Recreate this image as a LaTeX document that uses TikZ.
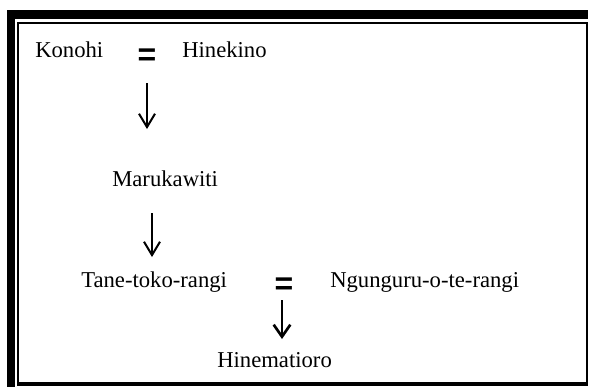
\documentclass[tikz,border=0pt]{standalone}
\usepackage{fontspec}
\setmainfont{Liberation Serif}
\newfontfamily\eqfont{Liberation Sans}
\usetikzlibrary{arrows.meta}
\tikzset{
  person/.style={anchor=base west, inner sep=0pt, font=\fontsize{17}{20}\selectfont},
  marriage/.style={inner sep=0pt, font=\eqfont\bfseries\fontsize{24}{24}\selectfont},
  descent/.style={line width=1.5pt, -{Straight Barb[length=10pt, width=12pt, line width=1.5pt]}},
  descentb/.style={line width=2pt, -{Straight Barb[length=9pt, width=12.5pt, line width=2pt]}}
}
\begin{document}
\begin{tikzpicture}[x=0.75pt, y=-0.75pt]
\useasboundingbox (0,0) rectangle (589,387);
% frame
\fill[black] (7,10) rectangle (588,18.5);
\fill[black] (7,10) rectangle (15,387);
\draw[line width=1.5pt] (18,22.5) -- (587,22.5) -- (587,384) -- (18,384) -- cycle;
\fill[black] (17,382) rectangle (588,386);
% people
\node[person] (konohi) at (35,57) {Konohi};
\node[person] (hinekino) at (182,57) {Hinekino};
\node[person] (maru) at (112,186) {Marukawiti};
\node[person] (tane) at (81,287) {Tane-toko-rangi};
\node[person] (ngu) at (330,287) {Ngunguru-o-te-rangi};
\node[person] (hinem) at (217,367) {Hinematioro};
% marriages
\node[marriage] (eq1) at (147,57) {=};
\node[marriage] (eq2) at (284,286) {=};
% descent arrows
\coordinate (a1s) at (147,83);
\coordinate (a1e) at (147,129);
\coordinate (a2s) at (152,213);
\coordinate (a2e) at (152,257);
\coordinate (a3s) at (282,300);
\coordinate (a3e) at (282,339);
\draw[descent] (a1s) -- (a1e);
\draw[descent] (a2s) -- (a2e);
\draw[descentb] (a3s) -- (a3e);
\end{tikzpicture}
\end{document}
